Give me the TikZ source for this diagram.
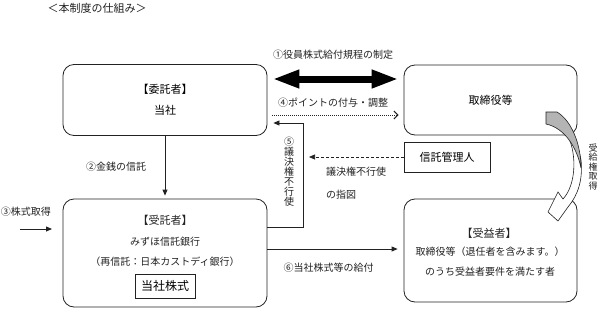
\documentclass[tikz,border=0pt]{standalone}
\usepackage{fontspec}
\setmainfont{Noto Sans CJK JP}
\usetikzlibrary{arrows.meta,positioning,calc}
\definecolor{ink}{HTML}{222222}
\definecolor{shade}{HTML}{B4B4B4}
\tikzset{rbox/.style={draw=ink,line width=.8pt,rounded corners=11pt,inner sep=0pt,font=\fontsize{11}{13}\selectfont},sbox/.style={draw=ink,line width=.8pt,inner sep=0pt,font=\fontsize{11}{13}\selectfont},lbl/.style={text=ink,inner sep=0pt,font=\fontsize{10}{12}\selectfont},arr/.style={-{Triangle[length=6pt,width=5pt]},line width=.8pt,draw=ink},dotarr/.style={-{Straight Barb[length=4pt,width=8pt]},line width=1pt,dash pattern=on 1pt off 1pt,draw=ink},dasharr/.style={-{Triangle[length=6pt,width=5pt]},line width=.7pt,dash pattern=on 3pt off 2pt,draw=ink},bigarr/.style={{Triangle[length=27pt,width=17pt]}-{Triangle[length=27pt,width=17pt]},line width=7pt,draw=black}}
\begin{document}
\begin{tikzpicture}[x=1pt,y=-1pt]
\useasboundingbox (0,0) rectangle (600,311);
\node[lbl,font=\fontsize{11}{13}\selectfont] (title) at (97,8) {＜本制度の仕組み＞};
% boxes
\node[rbox,minimum width=204pt,minimum height=71pt,align=center,font=\fontsize{11}{21}\selectfont] (trustor) at (165,100) {【委託者】\\当社};
\node[rbox,minimum width=173pt,minimum height=70pt] (board) at (490.5,100) {取締役等};
\node[sbox,minimum width=86pt,minimum height=30pt] (admin) at (447,157) {信託管理人};
\node[rbox,minimum width=204pt,minimum height=108pt] (trustee) at (165,253) {};
\node[lbl,font=\fontsize{11}{13}\selectfont] (trhead) at (165,220) {【受託者】};
\foreach \n/\yy/\txt in {tra/242/みずほ信託銀行,trb/262/（再信託：日本カストディ銀行）}{\node[lbl] (\n) at (165,\yy) {\txt};}
\node[sbox,minimum width=60pt,minimum height=24pt,font=\fontsize{12}{14}\selectfont] (stock) at (165,286) {当社株式};
\node[rbox,minimum width=173pt,minimum height=103pt] (benef) at (490.5,250.5) {};
\node[lbl,font=\fontsize{11}{13}\selectfont] (behead) at (489,233) {【受益者】};
\foreach \n/\yy/\txt in {bea/252/取締役等（退任者を含みます。）,beb/272/のうち受益者要件を満たす者}{\node[lbl] (\n) at (490,\yy) {\txt};}
% connectors
\draw[bigarr] ([shift={(5,-21)}]trustor.east) -- ([shift={(-5,-21)}]board.west);
\node[lbl] (rule) at (333,55) {①役員株式給付規程の制定};
\draw[dotarr] ([shift={(5,15)}]trustor.east) -- ([shift={(-5,15)}]board.west);
\node[lbl] (point) at (333,103) {④ポイントの付与・調整};
\draw[arr] ([shift={(0,-26)}]trustee.east) -- ++(36,0) |- ([shift={(6,23)}]trustor.east);
\node[lbl,align=center,font=\fontsize{10}{10}\selectfont] (nonvote) at (289,172) {⑤\\議\\決\\権\\不\\行\\使};
\coordinate (instr) at (309,157);
\draw[dasharr] (admin.west) -- (instr);
\node[lbl,align=left,anchor=west,font=\fontsize{10}{23}\selectfont] (instrtxt) at (326,183.5) {議決権不行使\\の指図};
\draw[arr] ([shift={(0,-4)}]trustee.east) -- ([shift={(-6,-1.5)}]benef.west);
\node[lbl] (deliver) at (328.5,268) {⑥当社株式等の給付};
\draw[arr] (trustor.south) -- ([shift={(0,-3)}]trustee.north);
\node[lbl] (money) at (116,167) {②金銭の信託};
\coordinate (buyin) at (20,229);
\coordinate (buyend) at (52,229);
\draw[arr] (buyin) -- (buyend);
\node[lbl] (buy) at (26,212) {③株式取得};
% curved arrow
\filldraw[draw=ink,fill=white,line width=.6pt] (568,136) .. controls (577,155) and (576,185) .. (563,199) -- (558,192) -- (548,212) -- (558,221) -- (568,207) .. controls (578,195) and (583,180) .. (581,160) .. controls (579,148) and (574,140) .. cycle;
\filldraw[draw=ink,fill=shade,line width=.6pt] (546,112) -- (557,112) .. controls (572,121) and (581,145) .. (581,168) .. controls (577,148) and (565,128) .. (546,124) -- cycle;
\node[lbl,align=center,font=\fontsize{9}{9.5}\selectfont] (grant) at (593,167) {受\\給\\権\\取\\得};
\end{tikzpicture}
\end{document}
